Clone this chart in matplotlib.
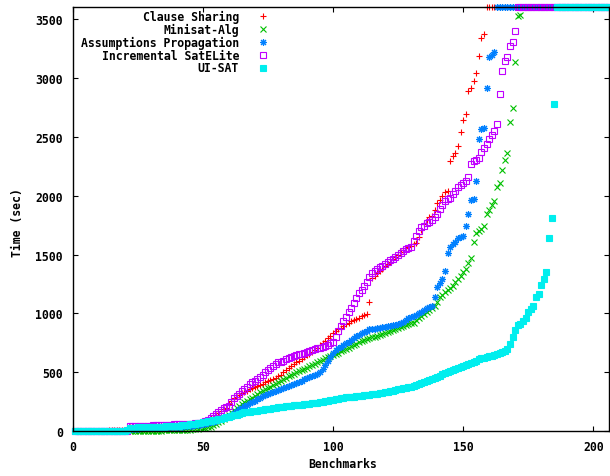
import matplotlib
matplotlib.use('Agg')
import matplotlib.pyplot as plt
import numpy as np

# cactus plot: solved times per solver, sorted; unsolved -> timeout
n_bench = 206
timeout = 3600

clause_sharing = [3,3,3,4,4,4,5,5,5,5,6,6,6,7,7,7,8,8,8,9,9,
    38,39,40,41,42,43,44,45,46,47,48,49,50,51,52,53,54,55,56,57,58,59,60,62,64,66,68,
    72,80,90,100,112,125,140,155,170,185,200,230,
    260,280,295,310,325,335,345,355,365,375,385,395,405,415,425,435,445,455,466,
    480,500,520,540,555,570,585,600,615,630,645,657,669,
    690,710,730,750,770,790,810,830,850,865,880,895,910,920,935,945,955,965,975,985,995,
    1100,1300,1320,1340,1360,1380,1400,1420,1440,1460,1480,1500,
    1520,1540,1555,1565,1575,1585,1598,1650,1710,1760,1790,1815,1830,1880,1935,1960,
    2000,2029,2042,2292,2334,2362,2419,2540,2645,2690,2890,2915,2970,3042,3183,3336,3373]

minisat_alg = [0,0,0,0,0,0,0,0,1,1,1,1,1,1,1,1,2,2,2,2,2,2,3,3,3,3,4,4,4,5,5,5,6,6,7,7,8,8,9,10,11,12,13,14,15,
    17,19,21,24,27,30,34,40,50,60,75,90,105,120,140,
    160,180,200,215,230,245,260,270,285,300,315,330,342,355,
    367,380,392,405,417,430,442,455,467,478,489,500,
    510,520,530,541,552,563,574,585,596,607,618,627,635,
    645,656,667,678,689,700,711,722,733,744,755,765,773,780,
    788,796,804,812,820,828,836,844,852,860,868,876,884,892,900,908,916,923,
    945,965,980,995,1010,1030,1050,1066,1100,1137,1160,1180,1200,1216,1235,1265,1293,
    1320,1350,1378,1430,1470,1610,1680,1700,1720,1745,1840,1880,1920,1958,2076,2108,
    2221,2306,2360,2628,2741,3136,3520,3530]

assumptions_prop = [1,1,1,1,2,2,2,2,2,3,3,3,3,4,4,4,5,5,5,6,6,
    20,21,22,23,24,25,26,27,28,29,30,31,32,33,34,35,36,37,38,39,40,42,44,46,48,50,53,56,60,
    65,70,76,82,88,95,102,110,118,127,
    140,155,170,185,200,212,224,236,248,260,272,284,296,
    305,314,323,332,341,350,359,368,377,386,395,404,413,422,431,440,449,458,467,476,488,500,
    530,560,595,630,665,694,
    705,718,730,745,760,775,790,805,818,830,842,853,864,
    868,872,876,880,884,888,892,896,900,905,912,923,
    930,945,958,968,975,985,1000,1015,1030,1045,1058,1066,1140,1222,1260,1293,1363,
    1514,1562,1585,1610,1640,1650,1660,1745,1845,1960,1970,2122,2481,2566,2575,
    2910,3173,3192,3215]

incr_satelite = [3,3,4,4,4,4,4,4,4,5,5,5,5,5,5,5,5,5,5,6,6,
    42,43,44,45,46,47,47,48,49,50,51,52,53,54,55,56,57,58,59,60,61,62,63,64,66,68,70,
    72,78,88,100,115,130,144,160,182,195,205,215,
    250,280,300,320,340,360,380,400,415,
    430,445,460,480,500,520,540,555,570,584,
    592,600,610,618,627,636,644,652,
    660,668,675,682,689,696,703,710,718,726,735,745,754,
    800,850,895,935,974,
    1010,1050,1090,1130,1170,1200,1230,1270,1310,1346,
    1360,1375,1390,1405,1420,1435,1450,1465,1480,1495,1510,1533,1548,1555,1562,1618,
    1661,1700,1730,1745,1765,1780,1794,1820,1845,1890,1920,1958,1968,1978,2010,2037,
    2075,2090,2105,2127,2156,2269,2290,2303,2317,2368,2402,2440,2481,2518,2547,2609,
    2860,3054,3139,3173,3268,3300,3393]

ui_sat = [2,2,2,2,3,3,3,3,3,4,4,4,4,5,5,5,5,6,6,6,7,
    30,31,32,33,33,34,35,36,36,37,38,39,40,40,41,42,43,44,45,
    47,50,53,56,59,62,65,68,72,76,80,84,87,
    92,97,102,108,113,118,124,130,136,142,148,154,160,
    163,167,170,173,176,179,182,185,189,192,195,199,203,
    205,208,211,213,216,219,221,224,226,229,232,234,237,
    240,244,248,252,256,260,264,268,272,276,280,284,288,
    290,293,295,298,300,303,305,308,310,313,315,318,322,
    326,331,336,341,346,351,355,360,365,370,374,379,384,
    392,401,410,419,428,437,446,455,464,473,482,491,500,
    509,518,527,536,545,555,564,573,582,591,600,610,620,
    625,630,636,642,648,655,662,670,680,700,740,800,860,900,
    910,935,960,1015,1040,1066,1137,1165,1242,1293,1350,1641,1808,2781]

labels = ['Clause Sharing', 'Minisat-Alg', 'Assumptions Propagation',
          'Incremental SatELite', 'UI-SAT']
series = [clause_sharing, minisat_alg, assumptions_prop, incr_satelite, ui_sat]
colors = ['#ff0000', '#00c000', '#0080ff', '#c000ff', '#00eeee']
markers = ['+', 'x', (8, 2, 0), 's', 's']
filled = [True, True, True, False, True]

plt.rcParams['font.family'] = 'DejaVu Sans Mono'
plt.rcParams['font.weight'] = 'bold'
fs = 8.3

fig = plt.figure(figsize=(6.1, 4.77), dpi=100)
ax = fig.add_axes([72.5/610, 1-432.3/477, 536.5/610, 424.3/477])

x = np.arange(1, n_bench+1)
for s, lab, c, m, f in zip(series, labels, colors, markers, filled):
    y = np.array(s + [timeout]*(n_bench-len(s)), dtype=float)
    if f:
        ax.plot(x, y, ls='none', marker=m, color=c, ms=5, mew=0.8, clip_on=False)
    else:
        ax.plot(x, y, ls='none', marker=m, mfc='none', mec=c, ms=5, mew=0.8, clip_on=False)

ax.set_xlim(0, 206)
ax.set_ylim(0, 3600)
ax.set_xticks([0, 50, 100, 150, 200])
ax.set_yticks(range(0, 3501, 500))
ax.tick_params(direction='in', top=True, right=True, length=3.4, width=0.8,
               labelsize=fs)
ax.tick_params(axis='y', pad=7)
ax.tick_params(axis='x', pad=6)
for sp in ax.spines.values():
    sp.set_linewidth(1.0)

fig.text(343/610, 1-465/477, 'Benchmarks', ha='center', va='center', fontsize=fs)
fig.text(18/610, 1-223/477, 'Time (sec)', ha='center', va='center', rotation=90, fontsize=fs)

# key, top left
rows = [17.3, 30.3, 43.3, 56.0, 68.7]
for lab, c, m, f, r in zip(labels, colors, markers, filled, rows):
    yy = (432.3 - r) / 424.3
    ax.text((239-72.5)/536.5, yy, lab, ha='right', va='center', fontsize=fs,
            transform=ax.transAxes)
    if f:
        ax.plot([(263-72.5)/536.5], [yy], marker=m, color=c, ms=5, mew=0.8,
                transform=ax.transAxes, clip_on=False)
    else:
        ax.plot([(263-72.5)/536.5], [yy], marker=m, mfc='none', mec=c, ms=5, mew=0.8,
                transform=ax.transAxes, clip_on=False)

fig.savefig('out.png', dpi=100)
